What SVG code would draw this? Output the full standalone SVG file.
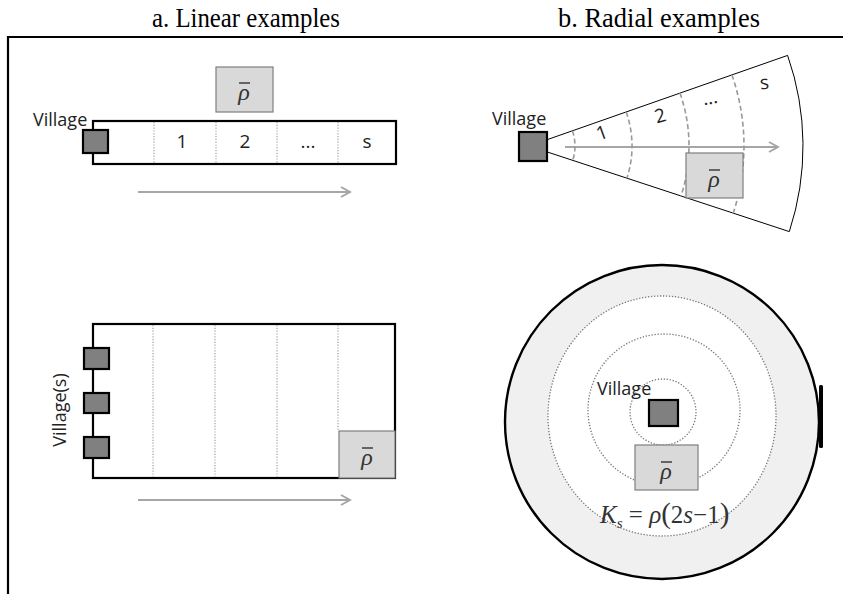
<svg xmlns="http://www.w3.org/2000/svg" width="843" height="594" viewBox="0 0 843 594">
<defs>
<marker id="arr" viewBox="0 0 12 12" refX="10" refY="6" markerWidth="12" markerHeight="12" markerUnits="userSpaceOnUse" orient="auto">
<path d="M1,1 L10,6 L1,11" fill="none" stroke="#a6a6a6" stroke-width="2"/>
</marker>
</defs>
<style>
.title{font-family:"Liberation Serif","Times New Roman",serif;font-size:28px;fill:#000}
.lbl{font-family:"Open Sans","Liberation Sans",sans-serif;font-size:18px;fill:#222}
.num{font-family:"Open Sans","Liberation Sans",sans-serif;font-size:19px;fill:#222;text-anchor:middle}
.strip{fill:#fff;stroke:#000;stroke-width:2.2}
.vil{fill:#808080;stroke:#000;stroke-width:2.2}
.rho{fill:#d9d9d9;stroke:#7f7f7f;stroke-width:1.2}
.rhot{font-family:"Liberation Serif","Times New Roman",serif;font-style:italic;font-size:24px;fill:#333;text-anchor:middle}
.bar{stroke:#333;stroke-width:1.4}
.div{stroke:#a0a0a0;stroke-width:1.2;stroke-dasharray:1.2 1.6}
.dash{fill:none;stroke:#999;stroke-width:1.6;stroke-dasharray:5 3}
.dot{fill:none;stroke:#777;stroke-width:1.3;stroke-dasharray:1.3 1.7}
.arrow{stroke:#a6a6a6;stroke-width:1.8;fill:none}
.math{font-family:"Liberation Serif","Times New Roman",serif;font-size:25px;fill:#333}
</style>
<rect width="843" height="594" fill="#fff"/>

<g id="titles">
<text class="title" x="152" y="27" textLength="188" lengthAdjust="spacingAndGlyphs">a. Linear examples</text>
<text class="title" x="558" y="27" textLength="202" lengthAdjust="spacingAndGlyphs">b. Radial examples</text>
</g>
<g id="frame">
<line x1="7" y1="37" x2="843" y2="37" stroke="#000" stroke-width="2"/>
<line x1="8" y1="36" x2="8" y2="594" stroke="#000" stroke-width="2.2"/>
</g>

<g id="linear-top">
<rect class="strip" x="93" y="121" width="303" height="43"/>
<line class="div" x1="154" y1="122" x2="154" y2="163"/>
<line class="div" x1="216" y1="122" x2="216" y2="163"/>
<line class="div" x1="277" y1="122" x2="277" y2="163"/>
<line class="div" x1="338" y1="122" x2="338" y2="163"/>
<text class="num" x="182" y="148">1</text>
<text class="num" x="245" y="148">2</text>
<text class="num" x="308" y="148">...</text>
<text class="num" x="367" y="148">s</text>
<rect class="vil" x="83" y="130" width="25" height="23"/>
<text class="lbl" x="33" y="126">Village</text>
<g id="rho-top">
<rect class="rho" x="216" y="67" width="57" height="45"/>
<text class="rhot" x="244" y="100">ρ</text>
<line class="bar" x1="239" y1="83" x2="250" y2="83"/>
</g>
</g>

<g id="linear-bottom">
<rect class="strip" x="93" y="324" width="302" height="154"/>
<line class="div" x1="153" y1="325" x2="153" y2="477"/>
<line class="div" x1="215" y1="325" x2="215" y2="477"/>
<line class="div" x1="277" y1="325" x2="277" y2="477"/>
<line class="div" x1="338" y1="325" x2="338" y2="431"/>
<rect class="vil" x="84" y="348" width="25" height="21"/>
<rect class="vil" x="84" y="393" width="25" height="20"/>
<rect class="vil" x="84" y="437" width="25" height="21"/>
<text class="lbl" transform="translate(66,410) rotate(-90)" text-anchor="middle">Village(s)</text>
<g id="rho-bl">
<rect class="rho" x="339" y="431" width="56" height="47"/>
<text class="rhot" x="367" y="465">ρ</text>
<line class="bar" x1="362" y1="448" x2="373" y2="448"/>
</g>
</g>

<g id="connectors">
<line class="arrow" x1="138" y1="192" x2="350" y2="192" marker-end="url(#arr)"/>
<line class="arrow" x1="138" y1="500" x2="350" y2="500" marker-end="url(#arr)"/>
<line class="arrow" x1="565" y1="147" x2="778" y2="147" marker-end="url(#arr)"/>
<line class="arrow" x1="664" y1="410" x2="773" y2="315" marker-end="url(#arr)"/>
</g>

<g id="radial-fan">
<path d="M547,139.7 L787.6,55.4 A274,274 0 0 1 789.3,231.6 L547,151.9" fill="none" stroke="#000" stroke-width="1"/>
<path class="dash" d="M572.4,130.8 A46,46 0 0 1 572.7,160.4"/>
<path class="dash" d="M626.2,112 A103,103 0 0 1 626.9,178.2"/>
<path class="dash" d="M680,93.1 A160,160 0 0 1 681,196"/>
<path class="dash" d="M731.9,74.9 A215,215 0 0 1 733.2,213.2"/>
<text class="num" transform="translate(604,139) rotate(-20)">1</text>
<text class="num" transform="translate(662,122) rotate(-16)">2</text>
<text class="num" transform="translate(711,104) rotate(-10)">...</text>
<text class="num" transform="translate(765,89) rotate(-6)">s</text>
<g id="rho-fan">
<rect class="rho" x="686" y="153" width="57" height="45"/>
<text class="rhot" x="714" y="187">ρ</text>
<line class="bar" x1="709" y1="170" x2="720" y2="170"/>
</g>
<rect class="vil" x="519" y="132" width="28" height="29"/>
<text class="lbl" x="492" y="125">Village</text>
</g>

<g id="radial-circle">
<circle cx="662" cy="422" r="157" fill="#f0f0f0" stroke="#000" stroke-width="2.4"/>
<rect x="819" y="385" width="4" height="63" rx="1.5" fill="#000"/>
<ellipse cx="662" cy="416" rx="114" ry="120" fill="#fff"/>
<ellipse class="dot" cx="662" cy="416" rx="114" ry="120"/>
<circle class="dot" cx="664" cy="410" r="76"/>
<circle class="dot" cx="663" cy="412" r="33"/>
<rect class="vil" x="649" y="400" width="29" height="26"/>
<text class="lbl" x="597" y="395">Village</text>
<g id="rho-circle">
<rect class="rho" x="635" y="445" width="63" height="45"/>
<text class="rhot" x="666" y="479">ρ</text>
<line class="bar" x1="661" y1="462" x2="672" y2="462"/>
</g>
<text class="math" x="600" y="523"><tspan font-style="italic">K</tspan><tspan font-style="italic" font-size="15" dy="5">s</tspan><tspan dy="-5"> = </tspan><tspan font-style="italic">ρ</tspan><tspan font-size="29">(</tspan>2<tspan font-style="italic">s</tspan>−1<tspan font-size="29">)</tspan></text>
</g>
</svg>
